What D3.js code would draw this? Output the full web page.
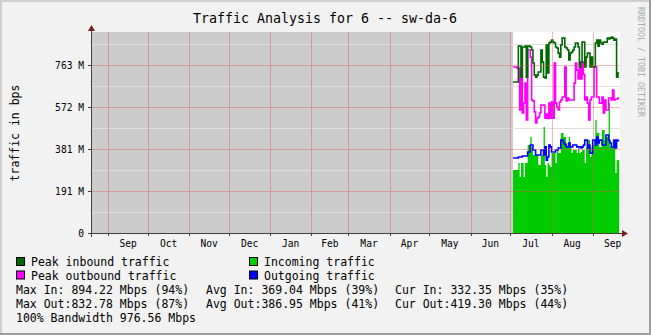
<!DOCTYPE html>
<html>
<head>
<meta charset="utf-8">
<script src="https://cdn.jsdelivr.net/npm/d3@7"></script>
<style>
  body { margin: 0; background: #f2f2f2; }
  svg { display: block; font-family: "DejaVu Sans Mono", monospace; }
</style>
</head>
<body>
<div id="chart"></div>
<script>
const title = "Traffic Analysis for 6 -- sw-da-6";
const yTitle = "traffic in bps";
const credit = "RRDTOOL / TOBI OETIKER";

// one value per day from the first known day, in M (binary) bits/s
const firstDay = new Date(Date.UTC(2010, 6, 3));

const incoming = [
  286, 286, 286, 286, 318, 254, 318, 318, 254, 318,
  318, 400, 400, 436, 386, 354, 354, 354, 354, 309,
  309, 354, 354, 481, 309, 254, 318, 309, 300, 363,
  363, 363, 318, 377, 363, 363, 454, 454, 436, 436,
  409, 391, 436, 391, 363, 377, 377, 377, 363, 391,
  363, 368, 377, 377, 318, 391, 422, 422, 345, 391,
  400, 422, 513, 454, 454, 391, 391, 468, 468, 422,
  436, 436, 590, 391, 391, 422, 409, 272, 331, 332
];

const outgoing = [
  341, 341, 341, 341, 345, 345, 345, 350, 350, 350,
  350, 368, 368, 400, 400, 377, 377, 354, 354, 354,
  354, 377, 377, 354, 391, 331, 345, 400, 391, 368,
  368, 368, 377, 377, 386, 386, 422, 422, 409, 400,
  391, 391, 409, 391, 391, 400, 400, 400, 391, 391,
  391, 386, 391, 400, 422, 422, 386, 400, 363, 363,
  422, 422, 400, 436, 409, 422, 422, 400, 400, 400,
  445, 445, 420, 409, 391, 391, 422, 386, 422, 419
];

const peakIn = [
  686, 686, 686, 686, 849, 849, 708, 845, 845, 849,
  708, 849, 849, 845, 831, 772, 717, 708, 717, 731,
  731, 831, 776, 708, 704, 854, 727, 863, 867, 876,
  867, 863, 845, 840, 817, 799, 854, 885, 885, 845,
  840, 831, 786, 817, 822, 831, 845, 863, 863, 845,
  754, 776, 867, 867, 754, 799, 817, 817, 754, 799,
  754, 754, 863, 876, 849, 876, 863, 858, 867, 867,
  867, 885, 881, 885, 890, 885, 876, 881, 708, 727
];

const peakOut = [
  754, 754, 754, 749, 749, 559, 749, 545, 590, 681,
  513, 831, 831, 799, 604, 600, 550, 500, 522, 527,
  545, 581, 581, 581, 522, 540, 520, 590, 522, 595,
  522, 772, 590, 572, 559, 595, 604, 618, 618, 754,
  600, 613, 604, 604, 604, 604, 681, 772, 740, 700,
  772, 700, 776, 720, 604, 618, 590, 513, 604, 618,
  618, 754, 754, 618, 618, 590, 590, 618, 545, 604,
  559, 559, 613, 613, 604, 649, 604, 609, 609, 613
];

const yTicks = [0, 190.73, 381.47, 572.2, 762.94];
const yTickLabels = ["0", "191 M", "381 M", "572 M", "763 M"];

const legendItems = [
  { label: "Peak inbound traffic", color: "#006600", col: 0, row: 0 },
  { label: "Incoming traffic", color: "#00cc00", col: 1, row: 0 },
  { label: "Peak outbound traffic", color: "#ff00ff", col: 0, row: 1 },
  { label: "Outgoing traffic", color: "#0000ff", col: 1, row: 1 }
];

const statsRows = [
  ["Max In: 894.22 Mbps (94%)", "Avg In: 369.04 Mbps (39%)", "Cur In: 332.35 Mbps (35%)"],
  ["Max Out:832.78 Mbps (87%)", "Avg Out:386.95 Mbps (41%)", "Cur Out:419.30 Mbps (44%)"]
];
const bandwidthText = "100% Bandwidth 976.56 Mbps";

const width = 651;
const height = 335;
const plotLeft = 92, plotRight = 620, plotTop = 32, plotBottom = 233;

const svg = d3.select("#chart")
  .append("svg")
  .attr("width", width)
  .attr("height", height);

// background with the 3d shade border
svg.append("rect").attr("width", width).attr("height", height).attr("fill", "#f2f2f2");
svg.append("path").attr("d", "M0,0H649V2H2V333H0Z").attr("fill", "#cfcfcf");
svg.append("path").attr("d", "M649,0H651V335H0V333H649Z").attr("fill", "#9e9e9e");

const x = d3.scaleUtc()
  .domain([new Date(Date.UTC(2009, 7, 19, 19)), new Date(Date.UTC(2010, 8, 21, 14))])
  .range([plotLeft, plotRight]);

const y = d3.scaleLinear()
  .domain([0, 913])
  .range([plotBottom, plotTop]);

const toPoints = values => {
  const pts = values.map((v, i) => ({ date: d3.utcDay.offset(firstDay, i), v: v }));
  // close the last step at the end of the last day
  pts.push({ date: d3.utcDay.offset(firstDay, values.length), v: values[values.length - 1] });
  return pts;
};

// canvas and the unknown-data area
svg.append("rect")
  .attr("x", plotLeft).attr("y", plotTop)
  .attr("width", plotRight - plotLeft).attr("height", plotBottom - plotTop)
  .attr("fill", "#ffffff");
svg.append("rect")
  .attr("x", plotLeft).attr("y", plotTop)
  .attr("width", x(firstDay) - plotLeft).attr("height", plotBottom - plotTop)
  .attr("fill", "#cccccc");

// minor horizontal grid
const yMinor = yTicks.map(v => v + 95.37);
svg.append("g").selectAll("line")
  .data(yMinor)
  .enter()
  .append("line")
  .attr("x1", plotLeft).attr("x2", plotRight)
  .attr("y1", d => Math.round(y(d)) + 0.5)
  .attr("y2", d => Math.round(y(d)) + 0.5)
  .attr("stroke", "#e0e0e0")
  .attr("stroke-width", 1);

// series
const area = d3.area()
  .curve(d3.curveStepAfter)
  .x(d => x(d.date))
  .y0(y(0))
  .y1(d => y(d.v));

const line = d3.line()
  .curve(d3.curveStepAfter)
  .x(d => x(d.date))
  .y(d => y(d.v));

svg.append("path")
  .attr("d", area(toPoints(incoming)))
  .attr("fill", "#00cc00");

svg.append("path")
  .attr("d", line(toPoints(outgoing)))
  .attr("fill", "none")
  .attr("stroke", "#0000ff")
  .attr("stroke-width", 1.6);

svg.append("path")
  .attr("d", line(toPoints(peakOut)))
  .attr("fill", "none")
  .attr("stroke", "#ff00ff")
  .attr("stroke-width", 1.6);

svg.append("path")
  .attr("d", line(toPoints(peakIn)))
  .attr("fill", "none")
  .attr("stroke", "#006600")
  .attr("stroke-width", 1.6);

// major grid on top of the data
const months = d3.utcMonths(x.domain()[0], x.domain()[1]);
const majorColor = "rgba(222, 79, 79, 0.4)";

svg.append("g").selectAll("line")
  .data(months)
  .enter()
  .append("line")
  .attr("x1", d => Math.round(x(d)) + 0.5)
  .attr("x2", d => Math.round(x(d)) + 0.5)
  .attr("y1", plotTop).attr("y2", plotBottom)
  .attr("stroke", majorColor);

svg.append("g").selectAll("line")
  .data(yTicks.slice(1))
  .enter()
  .append("line")
  .attr("x1", plotLeft).attr("x2", plotRight)
  .attr("y1", d => Math.round(y(d)) + 0.5)
  .attr("y2", d => Math.round(y(d)) + 0.5)
  .attr("stroke", majorColor);

// axes
const axisColor = "#404040";
const arrowColor = "#801f1f";

svg.append("line")
  .attr("x1", plotLeft - 0.5).attr("x2", plotLeft - 0.5)
  .attr("y1", plotBottom + 4).attr("y2", plotTop - 3)
  .attr("stroke", axisColor);
svg.append("line")
  .attr("x1", plotLeft - 4).attr("x2", plotRight + 3)
  .attr("y1", plotBottom + 0.5).attr("y2", plotBottom + 0.5)
  .attr("stroke", axisColor);

svg.append("path")
  .attr("d", `M${plotLeft - 4},${plotTop - 1}L${plotLeft + 3},${plotTop - 1}L${plotLeft - 0.5},${plotTop - 7}Z`)
  .attr("fill", arrowColor);
svg.append("path")
  .attr("d", `M${plotRight + 2},${plotBottom - 3}L${plotRight + 2},${plotBottom + 4}L${plotRight + 8},${plotBottom + 0.5}Z`)
  .attr("fill", arrowColor);

// ticks
svg.append("g").selectAll("line")
  .data(yTicks)
  .enter()
  .append("line")
  .attr("x1", plotLeft - 4).attr("x2", plotLeft)
  .attr("y1", d => Math.round(y(d)) + 0.5)
  .attr("y2", d => Math.round(y(d)) + 0.5)
  .attr("stroke", axisColor);

svg.append("g").selectAll("line")
  .data(months)
  .enter()
  .append("line")
  .attr("x1", d => Math.round(x(d)) + 0.5)
  .attr("x2", d => Math.round(x(d)) + 0.5)
  .attr("y1", plotBottom).attr("y2", plotBottom + 3)
  .attr("stroke", axisColor);

// tick labels
svg.append("g").selectAll("text")
  .data(yTicks)
  .enter()
  .append("text")
  .attr("x", plotLeft - 8)
  .attr("y", d => y(d) + 3.5)
  .attr("text-anchor", "end")
  .style("font-size", "9.6px")
  .attr("fill", "#000")
  .text((d, i) => yTickLabels[i]);

const labelMonths = d3.utcMonths(d3.utcMonth.floor(x.domain()[0]), x.domain()[1])
  .map(m => ({ m: m, mid: (x(m) + x(d3.utcMonth.offset(m, 1))) / 2 }))
  .filter(d => d.mid > plotLeft + 5);

svg.append("g").selectAll("text")
  .data(labelMonths)
  .enter()
  .append("text")
  .attr("x", d => d.mid)
  .attr("y", plotBottom + 14)
  .attr("text-anchor", "middle")
  .style("font-size", "9.6px")
  .attr("fill", "#000")
  .text(d => d3.utcFormat("%b")(d.m));

// titles
svg.append("text")
  .attr("x", 325)
  .attr("y", 23)
  .attr("text-anchor", "middle")
  .style("font-size", "13.3px")
  .attr("fill", "#000")
  .text(title);

svg.append("text")
  .attr("transform", "translate(19,133) rotate(-90)")
  .attr("text-anchor", "middle")
  .style("font-size", "11.5px")
  .attr("fill", "#000")
  .text(yTitle);

svg.append("text")
  .attr("transform", "translate(638,62) rotate(90)")
  .attr("text-anchor", "middle")
  .style("font-size", "8.3px")
  .attr("fill", "#aaaaaa")
  .text(credit);

// legend
const rowY = [266, 279.5, 293.5, 307.5, 321.5];
const colX = [16, 249];

const legend = svg.append("g").selectAll("g")
  .data(legendItems)
  .enter()
  .append("g");

legend.append("rect")
  .attr("x", d => colX[d.col] + 0.5)
  .attr("y", d => rowY[d.row] - 8.5)
  .attr("width", 8).attr("height", 8)
  .attr("fill", d => d.color)
  .attr("stroke", "#000");

legend.append("text")
  .attr("x", d => colX[d.col] + 15)
  .attr("y", d => rowY[d.row])
  .style("font-size", "11.5px")
  .attr("fill", "#000")
  .text(d => d.label);

const statX = [16, 206, 395];
statsRows.forEach((row, r) => {
  row.forEach((s, c) => {
    svg.append("text")
      .attr("x", statX[c])
      .attr("y", rowY[2 + r])
      .style("font-size", "11.5px")
      .attr("fill", "#000")
      .text(s);
  });
});

svg.append("text")
  .attr("x", 16)
  .attr("y", rowY[4])
  .style("font-size", "11.5px")
  .attr("fill", "#000")
  .text(bandwidthText);
</script>
</body>
</html>
